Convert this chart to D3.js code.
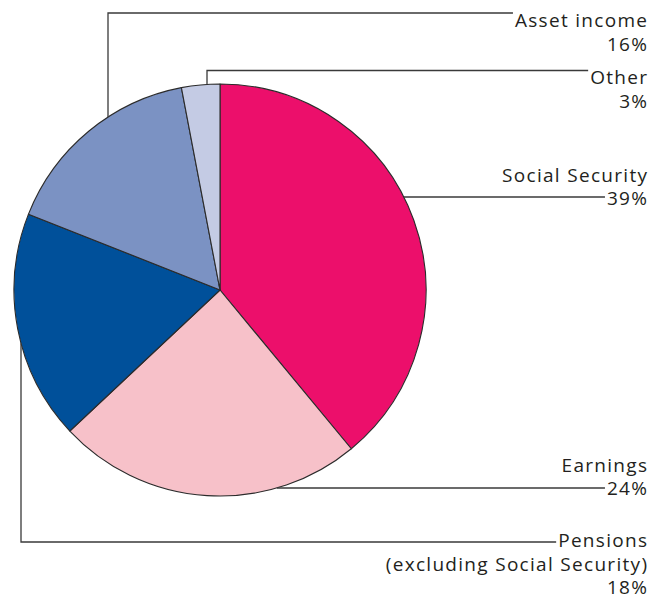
<!DOCTYPE html>
<html>
<head>
<meta charset="utf-8">
<script src="https://cdn.jsdelivr.net/npm/d3@7"></script>
<style>
  html, body { margin: 0; padding: 0; background: #fff; }
  svg { display: block; }
  text { font-family: "Open Sans", "Noto Sans", sans-serif; fill: #231f20; }
</style>
</head>
<body>
<svg id="chart" width="654" height="597"></svg>
<script>
// ---- Data ----
const categories = ["Social Security", "Earnings", "Pensions", "Asset income", "Other"];
const values = [39, 24, 18, 16, 3];
const subLabels = ["", "", "(excluding Social Security)", "", ""];
const colors = ["#ec0f6b", "#f7c1c9", "#00509a", "#7b92c3", "#c4cbe4"];

// ---- Layout ----
const cx = 220, cy = 290, r = 206;
const labelRight = 647;
const fontSize = 19;
const letterSpacing = 1.3;
const lineH = 23.6;

const svg = d3.select("#chart");
const data = categories.map((c, i) => ({ name: c, value: values[i], sub: subLabels[i], color: colors[i] }));

const pie = d3.pie().sort(null).value(d => d.value);
const arc = d3.arc().innerRadius(0).outerRadius(r);
const arcs = pie(data);

const g = svg.append("g").attr("transform", `translate(${cx},${cy})`);
g.selectAll("path.slice")
  .data(arcs)
  .enter().append("path")
  .attr("class", "slice")
  .attr("d", arc)
  .attr("fill", d => d.data.color)
  .attr("stroke", "#2b2b2b")
  .attr("stroke-width", 1.1)
  .attr("stroke-linejoin", "round");

// Leader specs: "h" = horizontal leader from right side of arc at level y
// "v" = vertical leader from arc at x, going to level y, then horizontal to label
const leaders = {
  "Social Security": { type: "h", y: 197, firstBaseline: 181.5, attachLine: 1 },
  "Earnings":        { type: "h", y: 488, firstBaseline: 471.5, attachLine: 1 },
  "Pensions":        { type: "v", x: 21, y: 542, dir: 1, firstBaseline: 547, attachLine: 0 },
  "Asset income":    { type: "v", x: 108, y: 13, dir: -1, firstBaseline: 27, attachLine: 0 },
  "Other":           { type: "v", x: 207, y: 70.5, dir: -1, firstBaseline: 84, attachLine: 0 }
};

const labelG = svg.append("g");
data.forEach(d => {
  const spec = leaders[d.name];
  const lines = [d.name];
  if (d.sub) lines.push(d.sub);
  lines.push(d.value + "%");
  const t = labelG.append("text")
    .attr("text-anchor", "end")
    .attr("font-size", fontSize)
    .attr("letter-spacing", letterSpacing);
  const tspans = lines.map((l, i) =>
    t.append("tspan")
      .attr("x", labelRight + letterSpacing)
      .attr("y", spec.firstBaseline + i * lineH)
      .text(l)
  );
  const attachW = tspans[spec.attachLine].node().getComputedTextLength();
  const endX = labelRight + letterSpacing - attachW - 2;

  let pts;
  if (spec.type === "h") {
    const dy = spec.y - cy;
    const x0 = cx + Math.sqrt(r * r - dy * dy);
    pts = [[x0, spec.y], [endX, spec.y]];
  } else {
    const dx = spec.x - cx;
    const y0 = cy + spec.dir * Math.sqrt(r * r - dx * dx);
    pts = [[spec.x, y0], [spec.x, spec.y], [endX, spec.y]];
  }
  labelG.append("path")
    .attr("d", d3.line()(pts))
    .attr("fill", "none")
    .attr("stroke", "#3a3a3a")
    .attr("stroke-width", 1.3);
});
</script>
</body>
</html>
